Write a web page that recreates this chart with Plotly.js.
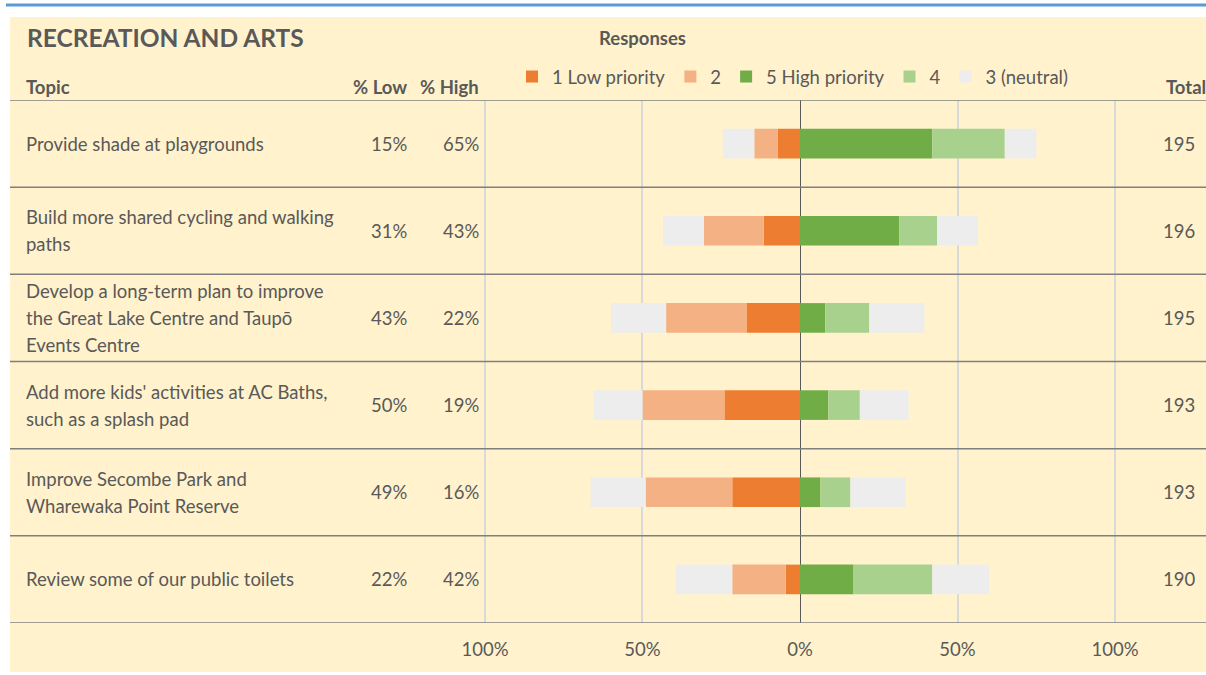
<!DOCTYPE html>
<html>
<head>
<meta charset="utf-8">
<script src="https://cdn.plot.ly/plotly-3.0.1.min.js"></script>
<style>
body{margin:0;background:#fff;}
#chart{width:1206px;height:675px;}
</style>
</head>
<body>
<div id="chart"></div>
<script>
// topics, top to bottom
let topics=[
"Provide shade at playgrounds",
"Build more shared cycling and walking<br>paths",
"Develop a long-term plan to improve<br>the Great Lake Centre and Taupō<br>Events Centre",
"Add more kids' activities at AC Baths,<br>such as a splash pad",
"Improve Secombe Park and<br>Wharewaka Point Reserve",
"Review some of our public toilets"
];
let pctLow=["15%","31%","43%","50%","49%","22%"];
let pctHigh=["65%","43%","22%","19%","16%","42%"];
let totals=[195,196,195,193,193,190];

// response shares (%)
let lowPri=[7,11.5,17,24,21.5,4.5];
let pri2=[7.5,19,25.5,26,27.5,17];
let neutral=[20,26,35,31,35,36];
let pri4=[23,12,14,10,9.5,25];
let highPri=[42,31.5,8,9,6.5,17];

let tickVals=[-100,-50,0,50,100];
let tickText=["100%","50%","0%","50%","100%"];

const W=1206,H=675;
const px=v=>v/W;
const py=v=>1-v/H;
const grey="#595959";
const fnt="Lato, 'Open Sans', sans-serif";
const fs=18.5;

let rows=topics.map((t,i)=>i);

function bar(name,xs,color,show){
return{
type:"bar",
orientation:"h",
name:name,
y:rows,
x:xs,
marker:{color:color,line:{width:0}},
showlegend:show,
hoverinfo:"skip"
};
}

let data=[
bar("1 Low priority",lowPri.map(v=>-v),"#ED7D31",true),
bar("2",pri2.map(v=>-v),"#F4B183",true),
bar("5 High priority",highPri,"#70AD47",true),
bar("4",pri4,"#A9D18E",true),
bar("3 (neutral)",neutral.map(v=>v/2),"#EDEDED",true),
bar("3 (neutral)",neutral.map(v=>-v/2),"#EDEDED",false)
];

let shapes=[
{type:"rect",xref:"paper",yref:"paper",x0:px(10),x1:1,y0:py(672),y1:py(17),
fillcolor:"#FFF2CC",line:{width:0},layer:"below"},
{type:"line",xref:"paper",yref:"paper",x0:px(6),x1:1,y0:py(5),y1:py(5),
line:{color:"#5B9BD5",width:3}}
];
for(let i=0;i<=topics.length;i++){
shapes.push({type:"line",xref:"paper",yref:"y",x0:px(10),x1:1,y0:i-0.5,y1:i-0.5,
line:{color:"#7F7F7F",width:1.5}});
}

let ann=[];
function txt(x,y,text,anchor,opts){
ann.push(Object.assign({xref:"paper",yref:"paper",x:px(x),y:py(y),text:text,
showarrow:false,xanchor:anchor,yanchor:"middle",
font:{family:fnt,size:fs,color:grey}},opts||{}));
}
txt(25,37,"<b>RECREATION AND ARTS</b>","left",{font:{family:fnt,size:24.5,color:grey}});
txt(642,38,"<b>Responses</b>","center");
txt(24,87,"<b>Topic</b>","left");
txt(409,87,"<b>% Low</b>","right");
txt(481,87,"<b>% High</b>","right");
txt(1164,87,"<b>Total</b>","left");

topics.forEach((t,i)=>{
let base={xref:"paper",yref:"y",y:i,showarrow:false,yanchor:"middle",
font:{family:fnt,size:fs,color:grey}};
let lines=t.split("<br>");
lines.forEach((ln,j)=>{
ann.push(Object.assign({},base,{x:px(24),xanchor:"left",text:ln,
yshift:((lines.length-1)/2-j)*27}));
});
ann.push(Object.assign({},base,{x:px(409),xanchor:"right",text:pctLow[i]}));
ann.push(Object.assign({},base,{x:px(481),xanchor:"right",text:pctHigh[i]}));
ann.push(Object.assign({},base,{x:px(1197),xanchor:"right",text:String(totals[i])}));
});

let layout={
width:W,height:H,
margin:{l:0,r:0,t:0,b:0},
paper_bgcolor:"#ffffff",
plot_bgcolor:"rgba(0,0,0,0)",
barmode:"relative",
bargap:0.66,
font:{family:fnt,size:fs,color:grey},
xaxis:{
domain:[px(483.4),px(1116.6)],
range:[-100.5,100.5],
tickvals:tickVals,
ticktext:tickText,
showgrid:true,
gridcolor:"#D9D9D9",
gridwidth:2,
zeroline:true,
zerolinecolor:"#595959",
zerolinewidth:1,
ticks:"",
ticklabelstandoff:13,
tickfont:{family:fnt,size:fs,color:grey},
fixedrange:true
},
yaxis:{
domain:[py(623),py(100)],
range:[topics.length-0.5,-0.5],
showticklabels:false,
showgrid:false,
zeroline:false,
fixedrange:true
},
legend:{
orientation:"h",
x:px(512),
y:py(77),
yanchor:"middle",
xanchor:"left",
traceorder:"normal",
bgcolor:"rgba(0,0,0,0)",
font:{family:fnt,size:fs,color:grey},
itemwidth:30
},
shapes:shapes,
annotations:ann
};

Plotly.newPlot("chart",data,layout,{displayModeBar:false,staticPlot:true});
</script>
</body>
</html>
